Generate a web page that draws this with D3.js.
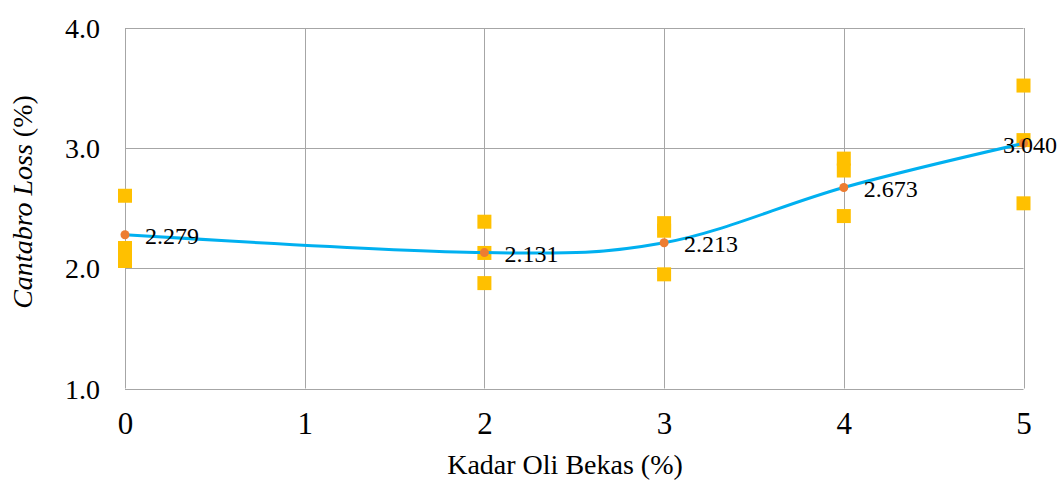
<!DOCTYPE html>
<html>
<head>
<meta charset="utf-8">
<script src="https://cdn.jsdelivr.net/npm/d3@7"></script>
<style>
  html, body { margin: 0; padding: 0; background: #fff; }
  svg { display: block; }
  svg text { font-family: 'Liberation Serif', 'Times New Roman', serif !important; }
</style>
</head>
<body>
<svg id="chart" width="1059" height="480"></svg>
<script>
// Used-oil content (%) and Cantabro loss (%)
const kadar = [0, 2, 3, 4, 5];
const meanLoss = [2.279, 2.131, 2.213, 2.673, 3.040];
const sample1 = [2.604, 2.388, 2.376, 2.913, 3.521];
const sample2 = [2.169, 2.128, 2.313, 2.814, 3.067];
const sample3 = [2.061, 1.877, 1.950, 2.435, 2.541];
const xTicks = [0, 1, 2, 3, 4, 5];
const yTicks = [1.0, 2.0, 3.0, 4.0];

const W = 1059, H = 480;
const FONT = "'Liberation Serif', 'Times New Roman', serif";
const svg = d3.select("#chart");

const x = d3.scaleLinear().domain([0, 5]).range([125, 1023.5]);
const y = d3.scaleLinear().domain([1, 4]).range([388.5, 28]);

const gridColor = "#a6a6a6";

// gridlines
const grid = svg.append("g");
grid.selectAll("line.h").data(yTicks).join("line")
  .attr("x1", x(0)).attr("x2", x(5))
  .attr("y1", d => Math.round(y(d)) + 0.5).attr("y2", d => Math.round(y(d)) + 0.5)
  .attr("stroke", gridColor).attr("stroke-width", 1);
grid.selectAll("line.v").data(xTicks).join("line")
  .attr("y1", y(4)).attr("y2", y(1))
  .attr("x1", d => Math.round(x(d)) + 0.5).attr("x2", d => Math.round(x(d)) + 0.5)
  .attr("stroke", gridColor).attr("stroke-width", 1);

// tick labels via d3 axes (axis lines hidden, the grid draws them)
const yAxis = svg.append("g")
  .attr("transform", `translate(${x(0) - 25},0)`)
  .call(d3.axisLeft(y).tickValues(yTicks).tickFormat(d3.format(".1f")).tickSize(0).tickPadding(0));
yAxis.attr("font-family", null);
yAxis.select(".domain").remove();
yAxis.selectAll("text")
  .style("font-family", FONT)
  .attr("font-size", 28).attr("fill", "#000").attr("dy", "0.34em");

const xAxis = svg.append("g")
  .attr("transform", `translate(0,${y(1)})`)
  .call(d3.axisBottom(x).tickValues(xTicks).tickFormat(d3.format("d")).tickSize(0).tickPadding(0));
xAxis.attr("font-family", null);
xAxis.select(".domain").remove();
xAxis.selectAll("text")
  .style("font-family", FONT)
  .attr("font-size", 31).attr("fill", "#000")
  .attr("dy", null).attr("y", 45);

// individual specimen results
const samples = [];
kadar.forEach((k, i) => {
  [sample1, sample2, sample3].forEach(s => samples.push({ k, v: s[i] }));
});
const sq = 14;
svg.append("g").selectAll("rect").data(samples).join("rect")
  .attr("x", d => x(d.k) - sq / 2)
  .attr("y", d => y(d.v) - sq / 2)
  .attr("width", sq).attr("height", sq)
  .attr("fill", "#ffc000");

// smoothed mean line
const means = kadar.map((k, i) => ({ k, v: meanLoss[i] }));
const line = d3.line()
  .x(d => x(d.k)).y(d => y(d.v))
  .curve(d3.curveCardinal.tension(0));
svg.append("path").datum(means)
  .attr("d", line)
  .attr("fill", "none")
  .attr("stroke", "#00b0f0")
  .attr("stroke-width", 3)
  .attr("stroke-linecap", "round");

// mean markers
svg.append("g").selectAll("circle").data(means).join("circle")
  .attr("cx", d => x(d.k)).attr("cy", d => y(d.v))
  .attr("r", 4.5).attr("fill", "#ed7d31");

// mean value labels
const labels = svg.append("g").selectAll("text").data(means).join("text")
  .style("font-family", FONT)
  .attr("font-size", 24)
  .attr("fill", "#000")
  .attr("dy", "0.35em")
  .attr("y", d => y(d.v) + 1)
  .attr("x", d => x(d.k) + 20)
  .text(d => d3.format(".3f")(d.v));
labels.each(function () {
  const bb = this.getBBox();
  if (bb.x + bb.width > W - 2) {
    d3.select(this).attr("x", W - 2 - bb.width);
  }
});

// axis titles
svg.append("text")
  .style("font-family", FONT)
  .attr("x", 565).attr("y", 474)
  .attr("text-anchor", "middle")
  .attr("font-size", 28)
  .text("Kadar Oli Bekas (%)");

const yt = svg.append("text")
  .style("font-family", FONT)
  .attr("transform", "translate(32,202) rotate(-90)")
  .attr("text-anchor", "middle")
  .attr("font-size", 28);
yt.append("tspan").attr("font-style", "italic").text("Cantabro Loss");
yt.append("tspan").text(" (%)");
</script>
</body>
</html>
